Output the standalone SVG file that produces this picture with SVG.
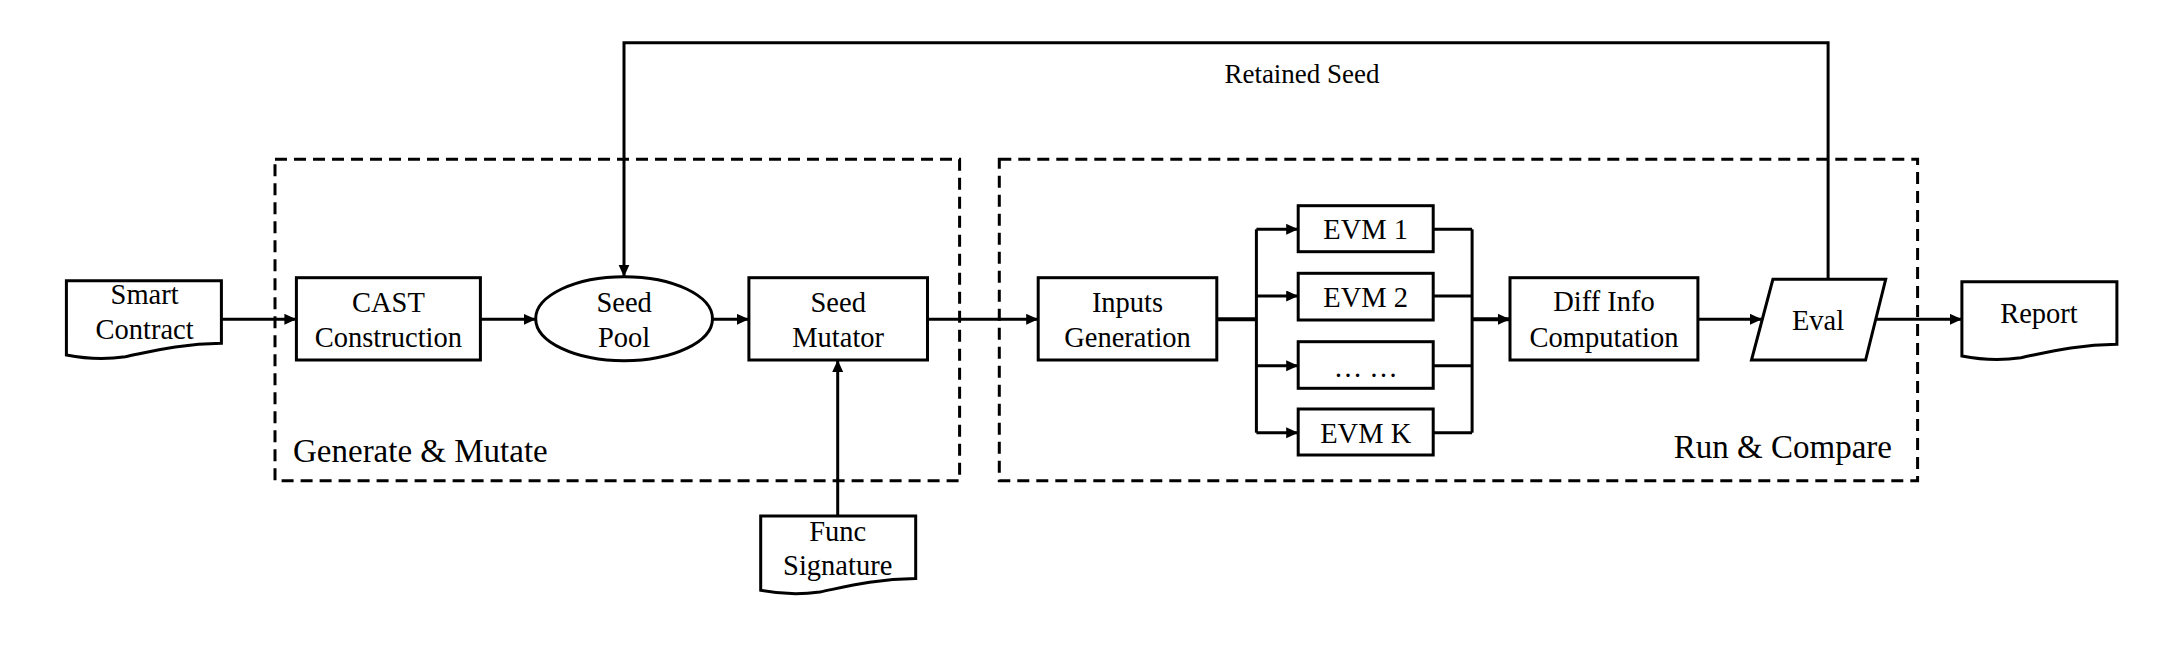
<svg xmlns="http://www.w3.org/2000/svg" xmlns:xlink="http://www.w3.org/1999/xlink" width="2182" height="649" viewBox="0 0 2182 649" font-family="Liberation Serif">
<style>
.box{fill:#fff;stroke:#000;stroke-width:3}
.grp{fill:none;stroke:#000;stroke-width:3;stroke-dasharray:12 7}
.edge{fill:none;stroke:#000;stroke-width:3}
.thick{stroke-width:4}
.t{font-size:28.5px;text-anchor:middle;fill:#000}
.lbl{font-size:33px;fill:#000}
.ret{font-size:27px;text-anchor:middle;fill:#000}
</style>
<defs>
<marker id="arr" markerUnits="userSpaceOnUse" markerWidth="13" markerHeight="12" refX="12" refY="5.5" orient="auto">
<path d="M0,0 L12,5.5 L0,11 z" fill="#000"/>
</marker>
<path id="doc" d="M0,0 H155 V62.6 C114,63 84,71 59,76 C39,79 19,78 0,74.3 Z"/>
</defs>

<g id="group-generate">
<rect class="grp" x="275" y="159.3" width="684.6" height="321.4"/>
<text class="lbl" x="293" y="461.7" font-family="Liberation Serif">Generate &amp; Mutate</text>
</g>
<g id="group-run">
<rect class="grp" x="999.3" y="159.3" width="918.3" height="321.4"/>
<text class="lbl" x="1892" y="458.3" text-anchor="end" font-family="Liberation Serif">Run &amp; Compare</text>
</g>

<g id="connectors">
<path class="edge" d="M221.4,319.3 H296.4" marker-end="url(#arr)"/>
<path class="edge" d="M480.4,319.3 H535.7" marker-end="url(#arr)"/>
<path class="edge" d="M712.5,319.3 H748.9" marker-end="url(#arr)"/>
<path class="edge" d="M927.5,319.3 H1038.2" marker-end="url(#arr)"/>
<path class="edge" d="M837.7,516 V360" marker-end="url(#arr)"/>
<path class="edge thick" d="M1216.8,319.3 H1256.4"/>
<path class="edge" d="M1256.4,229.3 V432.7"/>
<path class="edge" d="M1256.4,229.3 H1298.2" marker-end="url(#arr)"/>
<path class="edge" d="M1256.4,296 H1298.2" marker-end="url(#arr)"/>
<path class="edge" d="M1256.4,365.7 H1298.2" marker-end="url(#arr)"/>
<path class="edge" d="M1256.4,432.7 H1298.2" marker-end="url(#arr)"/>
<path class="edge" d="M1433.2,229.3 H1472.1 M1433.2,296 H1472.1 M1433.2,365.7 H1472.1 M1433.2,432.7 H1472.1"/>
<path class="edge" d="M1472.1,229.3 V432.7"/>
<path class="edge thick" d="M1472.1,319.3 H1510" marker-end="url(#arr)"/>
<path class="edge" d="M1697.9,319.3 H1762" marker-end="url(#arr)"/>
<path class="edge" d="M1876,319.3 H1961.9" marker-end="url(#arr)"/>
<path class="edge" d="M1828.1,279.3 V42.7 H624 V276.7" marker-end="url(#arr)"/>
<text class="ret" x="1302" y="83.3" font-family="Liberation Serif">Retained Seed</text>
</g>

<g id="smart-contract" font-family="Liberation Serif">
<use xlink:href="#doc" href="#doc" class="box" transform="translate(66.4,280.7)"/>
<text class="t" x="144.6" y="304.3">Smart</text>
<text class="t" x="144.6" y="339.3">Contract</text>
</g>
<g id="cast" font-family="Liberation Serif">
<rect class="box" x="296.4" y="277.7" width="184" height="82.3"/>
<text class="t" x="388.4" y="311.7">CAST</text>
<text class="t" x="388.4" y="346.7">Construction</text>
</g>
<g id="seed-pool" font-family="Liberation Serif">
<ellipse class="box" cx="624.1" cy="318.7" rx="88.4" ry="42"/>
<text class="t" x="624.1" y="311.7">Seed</text>
<text class="t" x="624.1" y="346.7">Pool</text>
</g>
<g id="seed-mutator" font-family="Liberation Serif">
<rect class="box" x="748.9" y="277.7" width="178.6" height="82.3"/>
<text class="t" x="838.2" y="311.7">Seed</text>
<text class="t" x="838.2" y="346.7">Mutator</text>
</g>
<g id="func-signature" font-family="Liberation Serif">
<use xlink:href="#doc" href="#doc" class="box" transform="translate(760.7,516)"/>
<text class="t" x="837.7" y="540.7">Func</text>
<text class="t" x="837.7" y="575">Signature</text>
</g>
<g id="inputs-generation" font-family="Liberation Serif">
<rect class="box" x="1038.2" y="277.7" width="178.6" height="82.3"/>
<text class="t" x="1127.5" y="311.7">Inputs</text>
<text class="t" x="1127.5" y="346.7">Generation</text>
</g>
<g id="evm1" font-family="Liberation Serif">
<rect class="box" x="1298.2" y="205.7" width="135" height="46"/>
<text class="t" x="1365.7" y="239.3">EVM 1</text>
</g>
<g id="evm2" font-family="Liberation Serif">
<rect class="box" x="1298.2" y="273.3" width="135" height="46.7"/>
<text class="t" x="1365.7" y="306.7">EVM 2</text>
</g>
<g id="evm-dots" font-family="Liberation Serif">
<rect class="box" x="1298.2" y="341.7" width="135" height="46.6"/>
<text class="t" x="1365.7" y="376.7">… …</text>
</g>
<g id="evmk" font-family="Liberation Serif">
<rect class="box" x="1298.2" y="409" width="135" height="46"/>
<text class="t" x="1365.7" y="442.7">EVM K</text>
</g>
<g id="diff-info" font-family="Liberation Serif">
<rect class="box" x="1510" y="277.7" width="187.9" height="82.3"/>
<text class="t" x="1604" y="311">Diff Info</text>
<text class="t" x="1604" y="346.7">Computation</text>
</g>
<g id="eval" font-family="Liberation Serif">
<polygon class="box" points="1772.9,279.3 1885.7,279.3 1865.6,360 1751.5,360"/>
<text class="t" x="1818" y="330">Eval</text>
</g>
<g id="report" font-family="Liberation Serif">
<use xlink:href="#doc" href="#doc" class="box" transform="translate(1961.9,281.7)"/>
<text class="t" x="2039" y="322.7">Report</text>
</g>
</svg>
